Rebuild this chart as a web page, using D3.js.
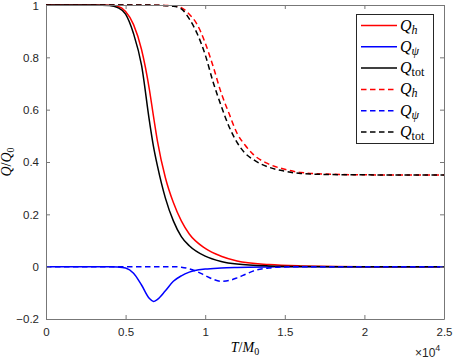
<!DOCTYPE html>
<html>
<head>
<meta charset="utf-8">
<script src="https://cdn.jsdelivr.net/npm/d3@7"></script>
<style>
  body { margin: 0; background: #fff; }
  svg { display: block; }
  .tick text { font-family: "Liberation Sans", Arial, sans-serif; font-size: 11.5px; fill: #262626; }
  .math { font-family: "Liberation Serif", "DejaVu Serif", serif; fill: #000; }
</style>
</head>
<body>
<div id="chart"></div>
<script>
// Data (T in units of 1e4 M0) _______________________________________________
const tSolid = [0, 0.3, 0.4, 0.45, 0.5, 0.55, 0.6, 0.65, 0.675, 0.7, 0.75, 0.8, 0.85, 0.9, 1.0, 1.1, 1.2, 1.4, 1.6, 2.0, 2.5];
const qhSolid   = [1, 1, 0.999, 0.995, 0.975, 0.925, 0.83, 0.675, 0.575, 0.48, 0.34, 0.245, 0.175, 0.125, 0.07, 0.04, 0.022, 0.008, 0.003, 0, 0];
const qpsiSolid = [0, 0, 0, -0.001, -0.005, -0.025, -0.07, -0.122, -0.133, -0.125, -0.092, -0.056, -0.035, -0.021, -0.009, -0.005, -0.003, -0.001, 0, 0, 0];
const qtotSolid = [1, 1, 0.998, 0.99, 0.965, 0.89, 0.77, 0.555, 0.46, 0.385, 0.262, 0.175, 0.115, 0.08, 0.04, 0.02, 0.01, 0.003, 0.001, 0, 0];

const tDash = [0, 0.5, 0.6, 0.7, 0.8, 0.85, 0.9, 0.95, 1.0, 1.05, 1.1, 1.15, 1.2, 1.25, 1.3, 1.4, 1.5, 1.6, 1.8, 2.0, 2.5];
const qhDash   = [1, 1, 1, 0.999, 0.997, 0.99, 0.965, 0.925, 0.855, 0.765, 0.665, 0.585, 0.51, 0.465, 0.43, 0.392, 0.372, 0.36, 0.353, 0.351, 0.35];
const qpsiDash = [0, 0, 0, 0, 0, -0.002, -0.008, -0.019, -0.034, -0.048, -0.056, -0.053, -0.043, -0.03, -0.017, -0.005, -0.001, 0, 0, 0, 0];
const qtotDash = [1, 1, 1, 0.999, 0.995, 0.985, 0.947, 0.89, 0.81, 0.705, 0.615, 0.535, 0.475, 0.434, 0.41, 0.38, 0.365, 0.356, 0.352, 0.351, 0.35];

const xTicks = [0, 0.5, 1, 1.5, 2, 2.5];
const yTicks = [-0.2, 0, 0.2, 0.4, 0.6, 0.8, 1];

const series = [
  { t: tSolid, q: qhSolid,   color: '#ff0000', dash: null, sub: 'h',   subItalic: true },
  { t: tSolid, q: qpsiSolid, color: '#0000ff', dash: null, sub: 'ψ',   subItalic: true },
  { t: tSolid, q: qtotSolid, color: '#000000', dash: null, sub: 'tot', subItalic: false },
  { t: tDash,  q: qhDash,    color: '#ff0000', dash: '5.5,3.5', sub: 'h',   subItalic: true },
  { t: tDash,  q: qpsiDash,  color: '#0000ff', dash: '5.5,3.5', sub: 'ψ',   subItalic: true },
  { t: tDash,  q: qtotDash,  color: '#000000', dash: '5.5,3.5', sub: 'tot', subItalic: false },
];

// Layout ______________________________________________________________________
const width = 453, height = 359;
const plotLeft = 46, plotRight = 444, plotTop = 5, plotBottom = 319;

const svg = d3.select('#chart').append('svg')
  .attr('width', width).attr('height', height);

const x = d3.scaleLinear().domain([0, 2.5]).range([plotLeft, plotRight]);
const y = d3.scaleLinear().domain([-0.2, 1]).range([plotBottom, plotTop]);

// Curves
const line = d3.line()
  .x(d => x(d[0])).y(d => y(d[1]))
  .curve(d3.curveMonotoneX);

const plot = svg.append('g');
series.forEach(s => {
  plot.append('path')
    .datum(s.t.map((t, i) => [t, s.q[i]]))
    .attr('d', line)
    .attr('fill', 'none')
    .attr('stroke', s.color)
    .attr('stroke-width', 1.5)
    .attr('stroke-dasharray', s.dash);
});

// Axes (MATLAB box style, ticks inside) ____________________________________
const axisColor = '#777';
const fmt = d => d3.format('~g')(d);

const xAxis = svg.append('g').attr('transform', `translate(0,${plotBottom})`)
  .call(d3.axisBottom(x).tickValues(xTicks).tickFormat(fmt).tickSizeInner(-4).tickSizeOuter(0).tickPadding(9));
const yAxis = svg.append('g').attr('transform', `translate(${plotLeft},0)`)
  .call(d3.axisLeft(y).tickValues(yTicks).tickFormat(fmt).tickSizeInner(-4).tickSizeOuter(0).tickPadding(7));
const xTop = svg.append('g').attr('transform', `translate(0,${plotTop})`)
  .call(d3.axisTop(x).tickValues(xTicks).tickFormat('').tickSizeInner(-4).tickSizeOuter(0));
const yRight = svg.append('g').attr('transform', `translate(${plotRight},0)`)
  .call(d3.axisRight(y).tickValues(yTicks).tickFormat('').tickSizeInner(-4).tickSizeOuter(0));

[xAxis, yAxis, xTop, yRight].forEach(g => {
  g.select('.domain').attr('stroke', axisColor);
  g.selectAll('.tick line').attr('stroke', axisColor);
});
// keep the top "1" inside the picture
yAxis.selectAll('.tick text').filter(d => d === 1).attr('dy', '0.42em');

// Exponent label
const expo = svg.append('text')
  .attr('x', 415).attr('y', 357)
  .style('font-family', '"Liberation Sans", Arial, sans-serif')
  .style('font-size', '12px').style('fill', '#262626');
expo.append('tspan').text('×10');
expo.append('tspan').attr('dy', -6).style('font-size', '9px').text('4');

// Axis labels
const xl = svg.append('text').attr('class', 'math')
  .attr('x', x(1.25)).attr('y', 352).attr('text-anchor', 'middle')
  .style('font-size', '14px');
xl.append('tspan').style('font-style', 'italic').text('T');
xl.append('tspan').text('/');
xl.append('tspan').style('font-style', 'italic').text('M');
xl.append('tspan').attr('dy', 3).style('font-size', '10px').text('0');

const yl = svg.append('text').attr('class', 'math')
  .attr('transform', `translate(11,${(plotTop + plotBottom) / 2}) rotate(-90)`)
  .attr('text-anchor', 'middle')
  .style('font-size', '14px');
yl.append('tspan').style('font-style', 'italic').text('Q');
yl.append('tspan').text('/');
yl.append('tspan').style('font-style', 'italic').text('Q');
yl.append('tspan').attr('dy', 3).style('font-size', '10px').text('0');

// Legend ______________________________________________________________________
const legend = svg.append('g');
legend.append('rect')
  .attr('x', 356.5).attr('y', 14.5).attr('width', 77).attr('height', 129)
  .attr('fill', '#fff').attr('stroke', '#262626').attr('stroke-width', 1);

const rowY = d3.scaleLinear().domain([0, 5]).range([25.5, 132]);
series.forEach((s, i) => {
  const yy = rowY(i);
  legend.append('line')
    .attr('x1', 361).attr('x2', 397).attr('y1', yy).attr('y2', yy)
    .attr('stroke', s.color).attr('stroke-width', 1.5)
    .attr('stroke-dasharray', s.dash);
  const t = legend.append('text').attr('class', 'math')
    .attr('x', 400).attr('y', yy + 5)
    .style('font-size', '16px');
  t.append('tspan').style('font-style', 'italic').text('Q');
  t.append('tspan').attr('dy', 3).style('font-size', '12px')
    .style('font-style', s.subItalic ? 'italic' : 'normal').text(s.sub);
});
</script>
</body>
</html>
